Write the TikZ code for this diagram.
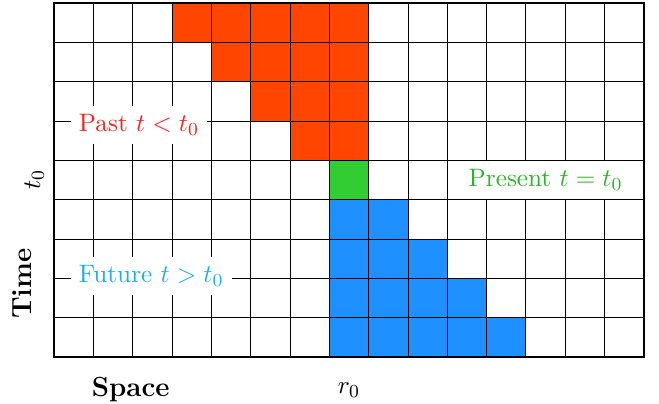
\documentclass[tikz,border=0pt,11pt]{standalone}
\usepackage{amsmath, amssymb}
\usepackage{tikz}
\usetikzlibrary{calc, positioning}

\definecolor{pastfill}{RGB}{255,69,0}
\definecolor{nowfill}{RGB}{50,205,50}
\definecolor{futfill}{RGB}{30,144,255}
\definecolor{pasttext}{RGB}{255,30,30}
\definecolor{nowtext}{RGB}{40,180,40}
\definecolor{futtext}{RGB}{30,175,235}

\tikzset{
    lbl/.style={fill=white, anchor=west},
    axislbl/.style={font=\large\bfseries}
}

\begin{document}
\begin{tikzpicture}[scale=0.6]
                \useasboundingbox (-1.373,-1.196) rectangle (15.383,9.076);
                % cells of the past
                \foreach \y/\a in {8/3,7/4,6/5,5/6}
                    \fill[pastfill] (\a,\y) rectangle (8,\y+1);
                % present
                \fill[nowfill] (7,4) rectangle (8,5);
                % cells of the future
                \foreach \y/\b in {3/9,2/10,1/11,0/12}
                    \fill[futfill] (7,\y) rectangle (\b,\y+1);
                \draw (0,0) grid (15,9);
                \draw[semithick] (0,0) rectangle (15,9);
                \node[lbl, text=pasttext] (past) at (0.41,5.9) {Past $t<t_0$};
                \node[lbl, text=futtext] (future) at (0.41,2.06) {Future $t>t_0$};
                \node[draw, fill=white, text=nowtext, minimum width=3cm,
                      minimum height=0.6cm, inner sep=0pt] (present) at (12.5,4.5)
                      {Present $t=t_0$};
                \node[rotate=90] (tnull) at (-0.5,4.5) {$t_0$};
                \node[axislbl, rotate=90] (time) at (-0.81,1.86) {Time};
                \node[axislbl] (space) at (1.95,-0.84) {Space};
                \node (rnull) at (7.5,-0.84) {$r_0$};
            \end{tikzpicture}
\end{document}
